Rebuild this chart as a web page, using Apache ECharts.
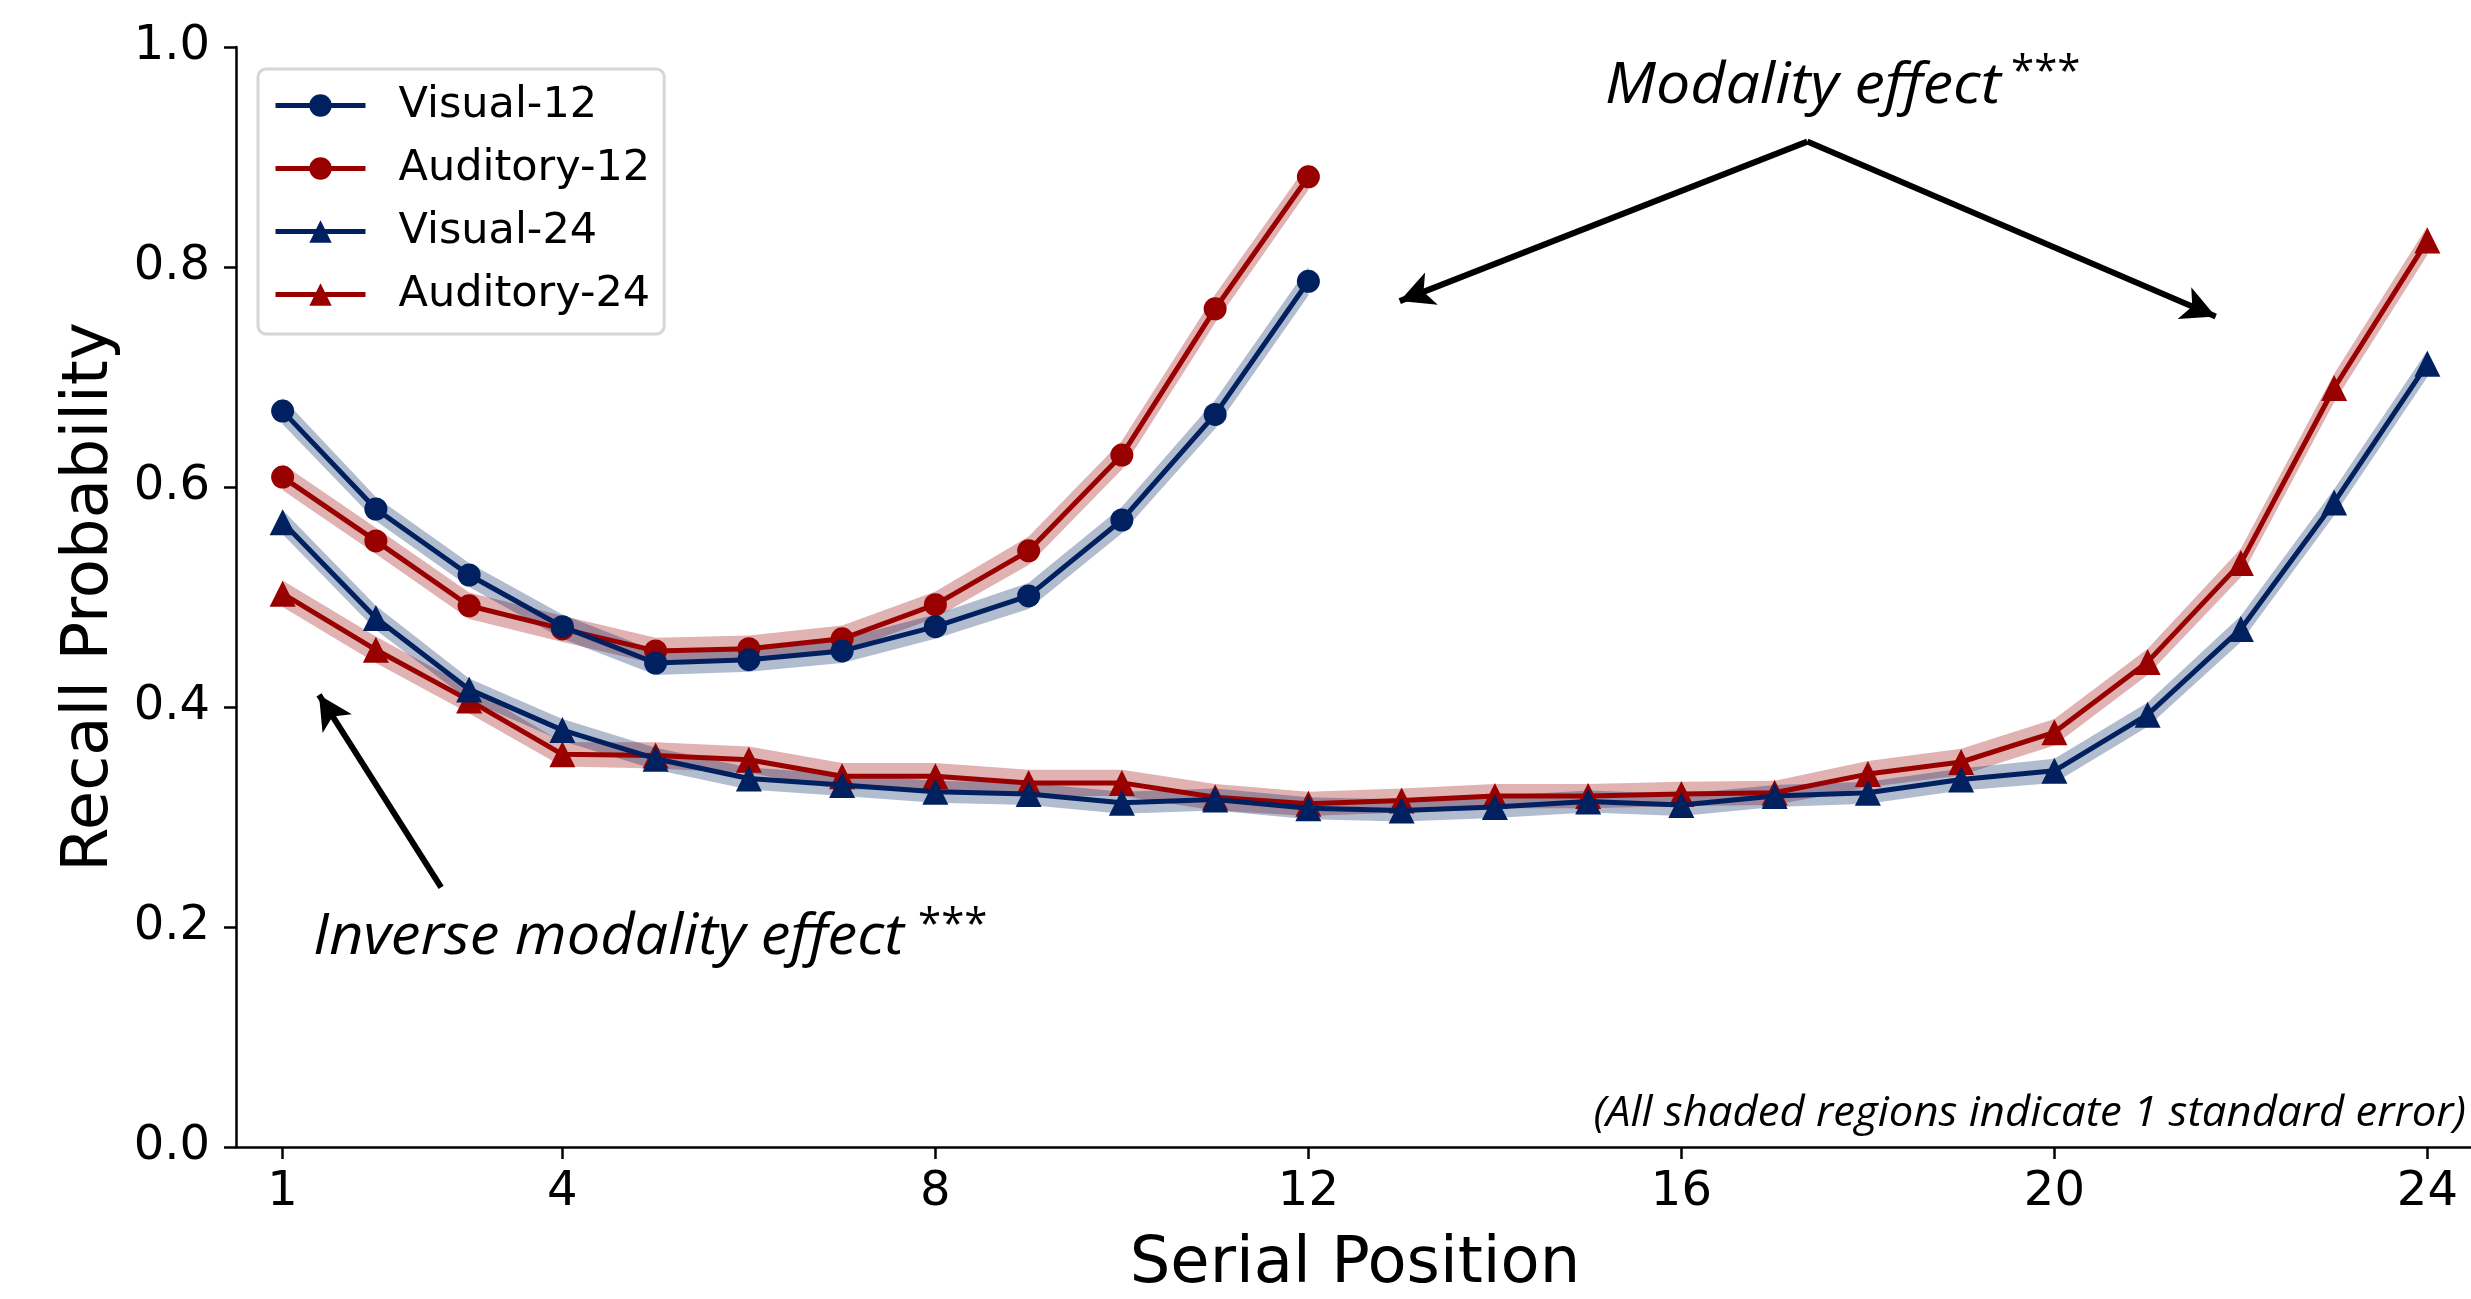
<!DOCTYPE html>
<html>
<head>
<meta charset="utf-8">
<title>Serial position curves</title>
<script src="https://cdn.jsdelivr.net/npm/echarts@6/dist/echarts.min.js"></script>
<style>
  html, body { margin: 0; padding: 0; background: #fff; }
  #chart { width: 2471px; height: 1299px; }
</style>
</head>
<body>
<div id="chart"></div>
<script>
// Serial positions
const pos12 = [1, 2, 3, 4, 5, 6, 7, 8, 9, 10, 11, 12];
const pos24 = [1, 2, 3, 4, 5, 6, 7, 8, 9, 10, 11, 12, 13, 14, 15, 16, 17, 18, 19, 20, 21, 22, 23, 24];
const xTicks = [1, 4, 8, 12, 16, 20, 24];

// Recall probabilities
const visual12 = [0.669, 0.580, 0.520, 0.473, 0.440, 0.443, 0.451, 0.473, 0.501, 0.570, 0.666, 0.787];
const auditory12 = [0.609, 0.551, 0.492, 0.471, 0.451, 0.453, 0.462, 0.493, 0.542, 0.629, 0.762, 0.882];
const visual24 = [0.568, 0.481, 0.416, 0.379, 0.353, 0.335, 0.329, 0.323, 0.321, 0.313, 0.316, 0.308,
                  0.306, 0.309, 0.314, 0.311, 0.319, 0.322, 0.334, 0.342, 0.393, 0.471, 0.586, 0.712];
const auditory24 = [0.503, 0.452, 0.406, 0.357, 0.356, 0.352, 0.337, 0.337, 0.331, 0.331, 0.318, 0.312,
                    0.315, 0.319, 0.319, 0.321, 0.322, 0.339, 0.350, 0.377, 0.441, 0.531, 0.690, 0.824];

// Standard errors (shaded bands)
const seVisual12 = [0.012, 0.011, 0.011, 0.011, 0.011, 0.011, 0.011, 0.011, 0.012, 0.012, 0.013, 0.013];
const seAuditory12 = [0.012, 0.012, 0.012, 0.012, 0.012, 0.012, 0.012, 0.012, 0.013, 0.013, 0.013, 0.012];
const seVisual24 = [0.011, 0.011, 0.010, 0.010, 0.010, 0.010, 0.010, 0.010, 0.010, 0.010, 0.010, 0.010,
                    0.010, 0.010, 0.010, 0.010, 0.010, 0.010, 0.010, 0.011, 0.011, 0.012, 0.012, 0.012];
const seAuditory24 = [0.012, 0.012, 0.012, 0.011, 0.012, 0.012, 0.012, 0.012, 0.012, 0.012, 0.012, 0.011,
                      0.011, 0.011, 0.011, 0.011, 0.011, 0.012, 0.012, 0.012, 0.012, 0.013, 0.013, 0.013];

// Arrow annotations, in data coordinates
const modalityApex = [17.35, 0.914];
const modalityTipLeft = [12.98, 0.769];
const modalityTipRight = [21.73, 0.755];
const inverseTail = [2.70, 0.236];
const inverseTip = [1.39, 0.411];

const BLUE = '#002060';
const RED = '#990000';
const BLUE_BAND = 'rgba(0, 32, 96, 0.3)';
const RED_BAND = 'rgba(153, 0, 0, 0.3)';
const FONT = 'DejaVu Sans';
const NOTE_FONT = 'Open Sans';

const chart = echarts.init(document.getElementById('chart'));

function pairs(xs, ys) {
    return xs.map((x, i) => [x, ys[i]]);
}

// shaded band: one polygon through mean +/- se
function bandSeries(name, xs, ys, se, color) {
    return {
        type: 'custom',
        name: name,
        silent: true,
        z: 1,
        data: xs.map((x, i) => [x, ys[i] - se[i], ys[i] + se[i]]),
        encode: { x: 0, y: [1, 2] },
        renderItem: function (params, api) {
            if (params.dataIndex !== 0) return;
            const upper = [];
            const lower = [];
            for (let i = 0; i < xs.length; i++) {
                upper.push(api.coord([xs[i], ys[i] + se[i]]));
                lower.unshift(api.coord([xs[i], ys[i] - se[i]]));
            }
            return {
                type: 'polygon',
                shape: { points: upper.concat(lower) },
                style: { fill: color }
            };
        }
    };
}

function lineSeries(name, xs, ys, color, symbol, size, z) {
    return {
        type: 'line',
        name: name,
        data: pairs(xs, ys),
        symbol: symbol,
        symbolSize: size,
        showAllSymbol: true,
        z: z,
        lineStyle: { color: color, width: 5 },
        itemStyle: { color: color, opacity: 1 },
        emphasis: { disabled: true }
    };
}

const option = {
    animation: false,
    backgroundColor: '#fff',
    grid: { left: 236, right: -3, top: 47, bottom: 152, containLabel: false, outerBoundsMode: 'none' },
    xAxis: {
        type: 'value',
        min: 0.5,
        max: 24.5,
        name: 'Serial Position',
        nameLocation: 'middle',
        nameGap: 86,
        nameTextStyle: { fontFamily: FONT, fontSize: 64, color: '#000' },
        axisLine: { onZero: false, lineStyle: { color: '#000', width: 2.5 } },
        axisTick: { show: true, length: 12, lineStyle: { color: '#000', width: 2.5 }, customValues: xTicks },
        axisLabel: { fontFamily: FONT, fontSize: 48, color: '#000', margin: 22, customValues: xTicks },
        splitLine: { show: false }
    },
    yAxis: {
        type: 'value',
        min: 0,
        max: 1,
        interval: 0.2,
        name: 'Recall Probability',
        nameLocation: 'middle',
        nameGap: 112,
        nameTextStyle: { fontFamily: FONT, fontSize: 64, color: '#000' },
        axisLine: { show: true, lineStyle: { color: '#000', width: 2.5 } },
        axisTick: { show: true, length: 12, lineStyle: { color: '#000', width: 2.5 } },
        axisLabel: { fontFamily: FONT, fontSize: 48, color: '#000', margin: 26, formatter: v => v.toFixed(1) },
        splitLine: { show: false }
    },
    legend: {
        orient: 'vertical',
        left: 258,
        top: 69,
        data: ['Visual-12', 'Auditory-12', 'Visual-24', 'Auditory-24'],
        itemWidth: 90,
        itemHeight: 28,
        itemGap: 20,
        padding: [15, 14, 18, 15],
        borderColor: '#d6d6d6',
        borderWidth: 3,
        borderRadius: 8,
        backgroundColor: '#fff',
        lineStyle: { width: 5 },
        textStyle: { fontFamily: FONT, fontSize: 43, color: '#000', lineHeight: 40, padding: [0, 0, 0, 28] },
        selectedMode: false
    },
    series: [
        bandSeries('band-a12', pos12, auditory12, seAuditory12, RED_BAND),
        bandSeries('band-v12', pos12, visual12, seVisual12, BLUE_BAND),
        bandSeries('band-a24', pos24, auditory24, seAuditory24, RED_BAND),
        bandSeries('band-v24', pos24, visual24, seVisual24, BLUE_BAND),
        lineSeries('Visual-12', pos12, visual12, BLUE, 'circle', 23, 5),
        lineSeries('Auditory-12', pos12, auditory12, RED, 'circle', 23, 4),
        lineSeries('Visual-24', pos24, visual24, BLUE, 'triangle', 26, 5),
        lineSeries('Auditory-24', pos24, auditory24, RED, 'triangle', 26, 4),
        {
            type: 'line',
            name: 'annotations',
            data: [],
            silent: true,
            z: 6,
            markLine: {
                silent: true,
                animation: false,
                symbol: ['none', 'arrow'],
                symbolSize: [26, 34],
                lineStyle: { color: '#000', width: 6, type: 'solid' },
                label: { show: false },
                emphasis: { disabled: true },
                data: [
                    [{ coord: modalityApex }, { coord: modalityTipLeft }],
                    [{ coord: modalityApex }, { coord: modalityTipRight }],
                    [{ coord: inverseTail }, { coord: inverseTip }]
                ]
            }
        }
    ],
    graphic: [
        {
            type: 'text', x: 1605, y: 87, scaleX: 1.087, silent: true,
            style: { text: 'Modality effect', fontFamily: NOTE_FONT, fontStyle: 'italic', fontSize: 56,
                     fill: '#000', align: 'left', verticalAlign: 'middle' }
        },
        {
            type: 'text', x: 2011, y: 73, silent: true,
            style: { text: '***', fontFamily: NOTE_FONT, fontSize: 42, fill: '#000', align: 'left', verticalAlign: 'middle' }
        },
        {
            type: 'text', x: 313, y: 938, scaleX: 1.063, silent: true,
            style: { text: 'Inverse modality effect', fontFamily: NOTE_FONT, fontStyle: 'italic', fontSize: 56,
                     fill: '#000', align: 'left', verticalAlign: 'middle' }
        },
        {
            type: 'text', x: 918, y: 926, silent: true,
            style: { text: '***', fontFamily: NOTE_FONT, fontSize: 42, fill: '#000', align: 'left', verticalAlign: 'middle' }
        },
        {
            type: 'text', x: 2466, y: 1114, scaleX: 1.04, silent: true,
            style: { text: '(All shaded regions indicate 1 standard error)', fontFamily: NOTE_FONT, fontStyle: 'italic',
                     fontSize: 42, fill: '#000', align: 'right', verticalAlign: 'middle' }
        }
    ]
};

chart.setOption(option);
</script>
</body>
</html>
